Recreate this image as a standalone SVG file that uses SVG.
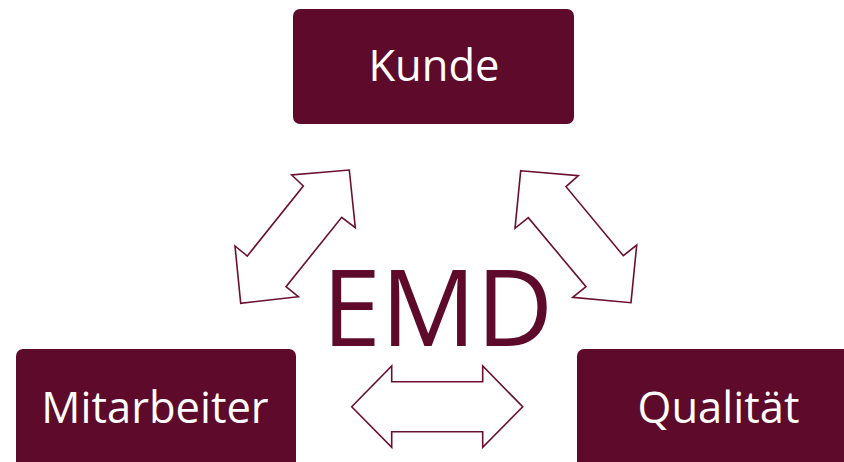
<svg xmlns="http://www.w3.org/2000/svg" width="844" height="462" viewBox="0 0 844 462">
<style>
.box{fill:#5e0a2b}
.lbl{fill:#ffffff;font-family:"Open Sans","Liberation Sans",sans-serif;font-size:43.5px;text-anchor:middle}
.arr{fill:#ffffff;stroke:#6b0f2f;stroke-width:1.6;stroke-linejoin:miter}
.emd{fill:#5e0a2b;font-family:"Open Sans","Liberation Sans",sans-serif;font-size:106px;text-anchor:middle}
</style>
<rect width="844" height="462" fill="#ffffff"/>
<g id="connectors">
<polygon class="arr" points="349.3,170 355.3,227.7 341.7,217.3 286,286.7 298.3,296.7 240.7,303.3 235,246 247.3,256 303.3,186 291.7,175"/>
<polygon class="arr" points="520.7,170.7 578.3,175.7 566,186.7 623.3,255.7 636.7,245 631,302.7 572.7,297.3 586,286.7 528.3,217.7 515,228.3"/>
<polygon class="arr" points="351.7,406.7 391.7,366 391.7,381.7 482.7,381.7 482.7,366 522.7,406.7 482.7,447.3 482.7,431.7 391.7,431.7 391.7,447.3"/>
</g>
<g id="kunde">
<rect class="box" x="293" y="9" width="281" height="115" rx="7"/>
<text class="lbl" x="434" y="81">Kunde</text>
</g>
<g id="mitarbeiter">
<rect class="box" x="16" y="349" width="280" height="125" rx="7"/>
<text class="lbl" x="155" y="423">Mitarbeiter</text>
</g>
<g id="qualitaet">
<rect class="box" x="577" y="349" width="280" height="125" rx="7"/>
<text class="lbl" x="718.5" y="423">Qualität</text>
</g>
<g id="emd">
<text class="emd" x="437.5" y="346">EMD</text>
</g>
</svg>
